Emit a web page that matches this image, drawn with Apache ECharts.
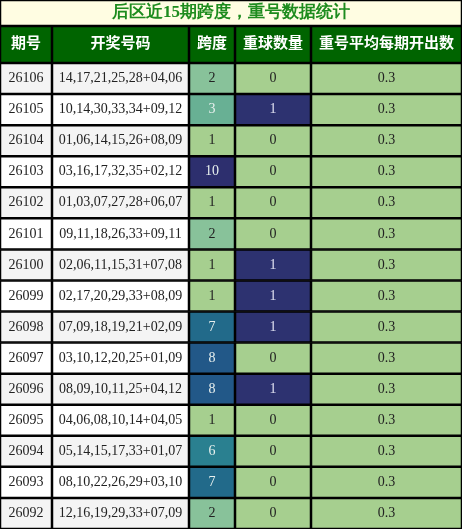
<!DOCTYPE html>
<html><head><meta charset="utf-8">
<script src="https://cdn.jsdelivr.net/npm/echarts@6/dist/echarts.min.js"></script>
<style>html,body{margin:0;padding:0;background:#fff}#c{width:462px;height:529px}</style>
</head><body><div id="c"></div>
<script>
const title = '后区近15期跨度，重号数据统计';
const headers = ['期号','开奖号码','跨度','重球数量','重号平均每期开出数'];
const issues = ['26106','26105','26104','26103','26102','26101','26100','26099','26098','26097','26096','26095','26094','26093','26092'];
const draws = ['14,17,21,25,28+04,06','10,14,30,33,34+09,12','01,06,14,15,26+08,09','03,16,17,32,35+02,12','01,03,07,27,28+06,07','09,11,18,26,33+09,11','02,06,11,15,31+07,08','02,17,20,29,33+08,09','07,09,18,19,21+02,09','03,10,12,20,25+01,09','08,09,10,11,25+04,12','04,06,08,10,14+04,05','05,14,15,17,33+01,07','08,10,22,26,29+03,10','12,16,19,29,33+07,09'];
const spans = [2,3,1,10,1,2,1,1,7,8,8,1,6,7,2];
const repeats = [0,1,0,0,0,0,1,1,1,0,1,0,0,0,0];
const averages = ['0.3','0.3','0.3','0.3','0.3','0.3','0.3','0.3','0.3','0.3','0.3','0.3','0.3','0.3','0.3'];

const colEdges = [0,52,189,235,311,462];
const titleH = 26, headH = 37, rowH = (529 - 63) / 15;
const spanStops = {1:'#a6cf8f',2:'#88c29a',3:'#68b094',4:'#52a096',5:'#3c9094',6:'#2a8090',7:'#226a8a',8:'#225888',9:'#27437c',10:'#2d2f6e'};
const repColors = {0:'#a6cf8f',1:'#2d3270'};

const cells = [];
cells.push({kind:'title', c0:0, c1:5, r:-2, text:title});
headers.forEach((h,i)=>cells.push({kind:'head', c0:i, c1:i+1, r:-1, text:h}));
issues.forEach((iss,r)=>{
  const bg = r%2===0 ? '#f4f4f4' : '#ffffff';
  cells.push({kind:'cell', c0:0,c1:1,r, text:iss, fill:bg, tc:'#222'});
  cells.push({kind:'cell', c0:1,c1:2,r, text:draws[r], fill:bg, tc:'#222'});
  const s = spans[r];
  cells.push({kind:'cell', c0:2,c1:3,r, text:String(s), fill:spanStops[s], tc: s>=3?'#e8f0ee':'#222'});
  const p = repeats[r];
  cells.push({kind:'cell', c0:3,c1:4,r, text:String(p), fill:repColors[p], tc: p?'#dfe0f0':'#222'});
  cells.push({kind:'cell', c0:4,c1:5,r, text:averages[r], fill:'#a6cf8f', tc:'#222'});
});
function yTop(r){ if(r===-2) return 0; if(r===-1) return titleH; return titleH+headH+r*rowH; }
function yBot(r){ if(r===-2) return titleH; if(r===-1) return titleH+headH; return titleH+headH+(r+1)*rowH; }

const chart = echarts.init(document.getElementById('c'), null, {renderer:'canvas'});
chart.setOption({
  animation:false,
  grid:{left:0,right:0,top:0,bottom:0},
  xAxis:{type:'value',min:0,max:462,show:false},
  yAxis:{type:'value',min:0,max:529,inverse:true,show:false},
  series:[{
    type:'custom',
    data: cells.map((c,i)=>[colEdges[c.c0], yTop(c.r), colEdges[c.c1], yBot(c.r), i]),
    renderItem:function(params, api){
      const c = cells[api.value(4)];
      const p0 = api.coord([api.value(0), api.value(1)]);
      const p1 = api.coord([api.value(2), api.value(3)]);
      let fill, tc, font;
      if(c.kind==='title'){ fill='#fffde2'; tc='#1e8c1e'; font='bold 17px "Liberation Serif","DejaVu Serif",serif'; }
      else if(c.kind==='head'){ fill='#006400'; tc='#ffffff'; font='bold 15px "Liberation Serif","Noto Sans CJK SC",serif'; }
      else { fill=c.fill; tc=c.tc; font='14px "Liberation Serif","DejaVu Serif",serif'; }
      return {
        type:'group',
        children:[
          {type:'rect', shape:{x:p0[0]+0.5,y:p0[1]+0.5,width:p1[0]-p0[0]-1,height:p1[1]-p0[1]-1},
           style:{fill:fill, stroke:'#000', lineWidth:1.5}},
          {type:'text', x:(p0[0]+p1[0])/2, y:(p0[1]+p1[1])/2,
           style:{text:c.text, fill:tc, font:font, align:'center', verticalAlign:'middle'}}
        ]
      };
    }
  }]
});
</script></body></html>
